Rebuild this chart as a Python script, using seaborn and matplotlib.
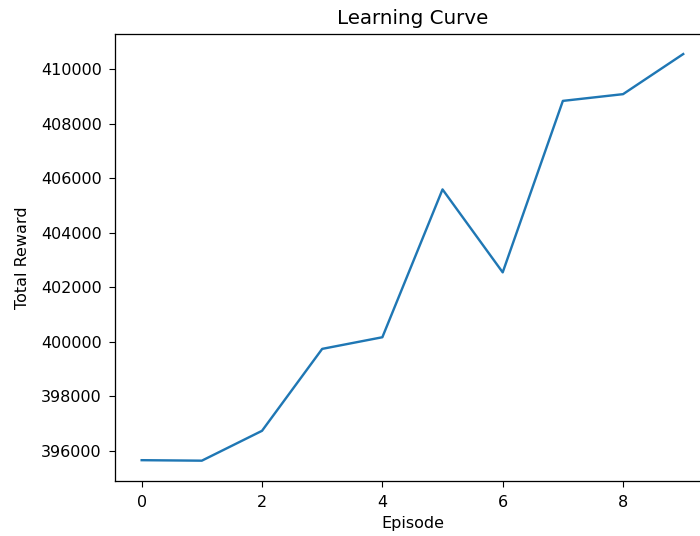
import matplotlib
matplotlib.use("Agg")
import matplotlib.pyplot as plt
import seaborn as sns

# Episode rewards
episodes = [0, 1, 2, 3, 4, 5, 6, 7, 8, 9]
total_reward = [395658, 395640, 396736, 399743, 400170,
                405595, 402551, 408844, 409091, 410563]


def main():
    # reference looks like a default matplotlib chart shown a bit enlarged
    scale = 1.15
    plt.rcParams.update({
        "font.size": 10 * scale,
        "xtick.major.size": 3.5 * scale,
        "ytick.major.size": 3.5 * scale,
        "xtick.major.pad": 6,
        "ytick.major.pad": 4.5 * scale,
        "axes.titlepad": 6 * scale,
        "axes.linewidth": 0.8 * scale,
    })

    fig = plt.figure(figsize=(7.0, 5.36), dpi=100)
    # the reference is cropped on the right, so the axes run past the canvas edge
    ax = fig.add_axes([0.1637, 0.1026, 0.851, 0.8345])

    sns.lineplot(x=episodes, y=total_reward, ax=ax, color="#1f77b4", linewidth=1.5 * scale)

    ax.set_title("Learning Curve", fontsize=14.3)
    ax.set_xlabel("Episode", labelpad=4 * scale)
    ax.set_ylabel("Total Reward", labelpad=8)
    ax.ticklabel_format(axis="y", style="plain", useOffset=False)

    fig.savefig("out.png", dpi=100)


if __name__ == "__main__":
    main()
